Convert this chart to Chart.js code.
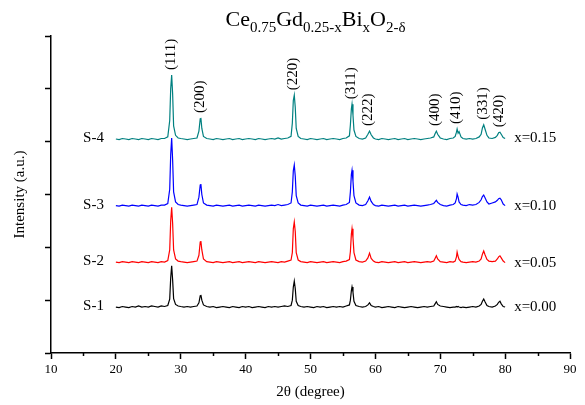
<!DOCTYPE html>
<html>
<head>
<meta charset="utf-8">
<script src="https://cdn.jsdelivr.net/npm/chart.js@4.4.0/dist/chart.umd.min.js"></script>
<style>
  html, body { margin: 0; padding: 0; background: #fff; }
</style>
</head>
<body>
<canvas id="xrd" width="585" height="405"></canvas>
<script>
// 2-theta grid shared by all four patterns
var twoTheta = [
  20, 20.5, 21, 21.5, 22, 22.5, 23, 23.5, 24, 24.5, 25, 25.5, 26, 26.5, 27, 27.5, 28,
  28.3, 28.45, 28.6, 28.75, 28.9, 29.2,
  29.6, 30, 30.5, 31, 31.5, 32, 32.5,
  32.8, 33, 33.1, 33.25, 33.5,
  34, 34.5, 35, 35.5, 36, 36.5, 37, 37.5, 38, 38.5, 39, 39.5, 40, 40.5, 41, 41.5, 42, 42.5, 43, 43.5, 44, 44.5, 45, 45.5, 46, 46.5, 47,
  47.2, 47.35, 47.5, 47.65, 47.8, 48.1,
  48.5, 49, 49.5, 50, 50.5, 51, 51.5, 52, 52.5, 53, 53.5, 54, 54.5, 55, 55.5, 56,
  56.15, 56.3, 56.4, 56.55, 56.7, 57,
  57.5, 58, 58.5,
  58.85, 59.1, 59.35,
  59.7, 60, 60.5, 61, 61.5, 62, 62.5, 63, 63.5, 64, 64.5, 65, 65.5, 66, 66.5, 67, 67.5, 68, 68.5, 69,
  69.2, 69.4, 69.6,
  70, 70.5, 71, 71.5, 72, 72.3,
  72.5, 72.6, 72.75, 72.9,
  73.2, 73.5, 74, 74.5, 75, 75.5, 76, 76.3,
  76.5, 76.7, 76.9, 77.2,
  77.5, 78, 78.5, 78.8,
  79, 79.2, 79.4,
  79.7, 80
];

// stacked intensities (a.u.)
var s1 = [
  0.87, 0.86, 0.88, 0.87, 0.86, 0.88, 0.87, 0.89, 0.87, 0.88, 0.87, 0.89, 0.88, 0.87, 0.89, 0.88, 0.90,
  1.02, 1.42, 1.65, 1.38, 1.03, 0.92,
  0.89, 0.88, 0.87, 0.88, 0.87, 0.88, 0.89,
  0.95, 1.08, 1.10, 1.00, 0.91,
  0.88, 0.87, 0.88, 0.86, 0.87, 0.88, 0.87, 0.86, 0.88, 0.87, 0.86, 0.88, 0.87, 0.88, 0.86, 0.87, 0.88, 0.87, 0.86, 0.88, 0.87, 0.88, 0.87, 0.88, 0.89, 0.88, 0.90,
  1.00, 1.25, 1.36, 1.22, 0.98, 0.90,
  0.88, 0.87, 0.88, 0.87, 0.86, 0.88, 0.87, 0.88, 0.86, 0.87, 0.88, 0.87, 0.88, 0.87, 0.89, 0.91,
  1.00, 1.18, 1.25, 1.15, 0.98, 0.90,
  0.88, 0.87, 0.88,
  0.91, 0.95, 0.90,
  0.88, 0.87, 0.88, 0.86, 0.87, 0.88, 0.87, 0.86, 0.88, 0.87, 0.86, 0.87, 0.88, 0.87, 0.86, 0.87, 0.88, 0.87, 0.88, 0.89,
  0.93, 0.97, 0.92,
  0.89, 0.88, 0.87, 0.86, 0.87, 0.87,
  0.88, 0.87, 0.88, 0.87,
  0.86, 0.87, 0.86, 0.87, 0.88, 0.87, 0.89, 0.92,
  0.98, 1.02, 0.97, 0.90,
  0.88, 0.87, 0.89, 0.92,
  0.96, 0.98, 0.93,
  0.88, 0.87
];
var s2 = [
  1.72, 1.71, 1.73, 1.72, 1.71, 1.73, 1.72, 1.71, 1.73, 1.72, 1.71, 1.73, 1.72, 1.71, 1.73, 1.72, 1.75,
  1.95, 2.50, 2.76, 2.45, 1.95, 1.78,
  1.74, 1.73, 1.72, 1.71, 1.72, 1.73, 1.74,
  1.85, 2.10, 2.12, 1.95, 1.78,
  1.73, 1.72, 1.71, 1.73, 1.72, 1.71, 1.72, 1.73, 1.71, 1.72, 1.73, 1.71, 1.72, 1.73, 1.72, 1.71, 1.73, 1.72, 1.71, 1.72, 1.73, 1.72, 1.71, 1.73, 1.72, 1.74, 1.76,
  1.90, 2.35, 2.48, 2.30, 1.90, 1.76,
  1.73, 1.72, 1.71, 1.73, 1.72, 1.71, 1.72, 1.73, 1.71, 1.72, 1.73, 1.72, 1.71, 1.73, 1.74, 1.77,
  1.92, 2.25, 2.35, 2.18, 1.90, 1.76,
  1.73, 1.72, 1.74,
  1.80, 1.89, 1.79,
  1.74, 1.72, 1.71, 1.73, 1.72, 1.71, 1.72, 1.73, 1.71, 1.72, 1.73, 1.71, 1.72, 1.73, 1.72, 1.71, 1.72, 1.73, 1.72, 1.74,
  1.79, 1.84, 1.78,
  1.73, 1.72, 1.71, 1.73, 1.72, 1.74,
  1.82, 1.91, 1.83, 1.77,
  1.73, 1.72, 1.71, 1.72, 1.73, 1.72, 1.74, 1.78,
  1.87, 1.93, 1.86, 1.77,
  1.74, 1.73, 1.74, 1.78,
  1.82, 1.84, 1.80,
  1.74, 1.71
];
var s3 = [
  2.79, 2.78, 2.80, 2.79, 2.78, 2.80, 2.79, 2.78, 2.80, 2.79, 2.78, 2.80, 2.79, 2.78, 2.80, 2.80, 2.83,
  3.10, 3.75, 4.07, 3.65, 3.05, 2.86,
  2.81, 2.80, 2.79, 2.78, 2.79, 2.80, 2.81,
  2.95, 3.18, 3.20, 3.00, 2.84,
  2.80, 2.79, 2.78, 2.80, 2.79, 2.78, 2.79, 2.80, 2.78, 2.79, 2.80, 2.78, 2.79, 2.80, 2.79, 2.78, 2.80, 2.79, 2.78, 2.79, 2.80, 2.79, 2.81, 2.79, 2.80, 2.81, 2.84,
  3.05, 3.45, 3.56, 3.35, 2.98, 2.84,
  2.80, 2.79, 2.78, 2.80, 2.79, 2.78, 2.79, 2.80, 2.78, 2.79, 2.80, 2.79, 2.78, 2.80, 2.81, 2.85,
  3.05, 3.38, 3.46, 3.25, 2.98, 2.84,
  2.80, 2.79, 2.81,
  2.88, 2.95, 2.87,
  2.81, 2.79, 2.78, 2.80, 2.79, 2.78, 2.79, 2.80, 2.78, 2.79, 2.80, 2.78, 2.79, 2.80, 2.79, 2.78, 2.79, 2.80, 2.81, 2.83,
  2.86, 2.89, 2.85,
  2.81, 2.79, 2.78, 2.80, 2.81, 2.84,
  2.92, 3.01, 2.95, 2.86,
  2.81, 2.80, 2.79, 2.81, 2.80, 2.81, 2.85, 2.90,
  2.96, 2.99, 2.94, 2.86,
  2.82, 2.84, 2.86, 2.89,
  2.92, 2.93, 2.90,
  2.82, 2.79
];
var s4 = [
  4.05, 4.04, 4.06, 4.05, 4.04, 4.06, 4.05, 4.04, 4.06, 4.05, 4.04, 4.06, 4.05, 4.04, 4.06, 4.06, 4.09,
  4.40, 5.00, 5.26, 4.90, 4.30, 4.12,
  4.07, 4.06, 4.05, 4.04, 4.05, 4.06, 4.07,
  4.20, 4.43, 4.45, 4.25, 4.10,
  4.06, 4.05, 4.04, 4.06, 4.05, 4.04, 4.05, 4.06, 4.04, 4.05, 4.06, 4.04, 4.05, 4.06, 4.05, 4.04, 4.06, 4.05, 4.04, 4.05, 4.06, 4.05, 4.07, 4.05, 4.06, 4.07, 4.10,
  4.35, 4.78, 4.88, 4.65, 4.25, 4.10,
  4.06, 4.05, 4.04, 4.06, 4.05, 4.04, 4.05, 4.06, 4.04, 4.05, 4.06, 4.05, 4.04, 4.06, 4.07, 4.11,
  4.32, 4.62, 4.71, 4.50, 4.22, 4.10,
  4.06, 4.05, 4.07,
  4.14, 4.20, 4.13,
  4.07, 4.05, 4.04, 4.06, 4.05, 4.04, 4.05, 4.06, 4.04, 4.05, 4.06, 4.04, 4.05, 4.06, 4.05, 4.04, 4.05, 4.06, 4.07, 4.09,
  4.15, 4.20, 4.14,
  4.07, 4.05, 4.04, 4.06, 4.07, 4.10,
  4.18, 4.24, 4.16, 4.19,
  4.09, 4.06, 4.05, 4.06, 4.05, 4.06, 4.09, 4.14,
  4.26, 4.32, 4.24, 4.12,
  4.07, 4.06, 4.08, 4.12,
  4.17, 4.18, 4.14,
  4.08, 4.06
];

var sampleNames = ['S-1', 'S-2', 'S-3', 'S-4'];
var bismuth = ['x=0.00', 'x=0.05', 'x=0.10', 'x=0.15'];
var hklLabels = ['(111)', '(200)', '(220)', '(311)', '(222)', '(400)', '(410)', '(331)', '(420)'];
var hklPos = [28.6, 33.1, 47.5, 56.4, 59.1, 69.4, 72.6, 76.7, 79.2];

var allSeries = [s1, s2, s3, s4];
var lineColors = ['#000000', '#ff0000', '#0000ff', '#008080'];
var serif = '"Liberation Serif", "Times New Roman", serif';

// title with subscripts
var titleParts = [['Ce', 0], ['0.75', 1], ['Gd', 0], ['0.25-x', 1], ['Bi', 0], ['x', 1], ['O', 0], ['2-\u03b4', 1]];

var labelPlugin = {
  id: 'xrdLabels',
  afterDraw: function(chart) {
    var ctx = chart.ctx;
    var xs = chart.scales.x, ys = chart.scales.y;
    var area = chart.chartArea;
    ctx.save();
    ctx.fillStyle = '#000';

    // minor ticks on x axis
    ctx.strokeStyle = '#000';
    ctx.lineWidth = 1.5;
    for (var m = 15; m < 90; m += 10) {
      var mx = Math.round(xs.getPixelForValue(m)) + 0.5;
      ctx.beginPath();
      ctx.moveTo(mx, area.bottom);
      ctx.lineTo(mx, area.bottom + 3);
      ctx.stroke();
    }

    // sample names and compositions
    ctx.font = '15px ' + serif;
    ctx.textBaseline = 'middle';
    allSeries.forEach(function(d, i) {
      ctx.textAlign = 'right';
      ctx.fillText(sampleNames[i], xs.getPixelForValue(twoTheta[0]) - 12, ys.getPixelForValue(d[0]) - 1);
      ctx.textAlign = 'left';
      ctx.fillText(bismuth[i], xs.getPixelForValue(twoTheta[twoTheta.length - 1]) + 9, ys.getPixelForValue(d[d.length - 1]));
    });

    // hkl labels above the top pattern
    var top = allSeries[3];
    hklLabels.forEach(function(lab, k) {
      var peak = 0;
      twoTheta.forEach(function(t, j) {
        if (Math.abs(t - hklPos[k]) < 0.35 && top[j] > peak) peak = top[j];
      });
      ctx.save();
      ctx.translate(xs.getPixelForValue(hklPos[k]) - 1, ys.getPixelForValue(peak) - 5);
      ctx.rotate(-Math.PI / 2);
      ctx.textAlign = 'left';
      ctx.textBaseline = 'middle';
      ctx.fillText(lab, 0, 0);
      ctx.restore();
    });

    // title
    var bigFont = '22px ' + serif, smallFont = '15px ' + serif;
    var total = 0;
    titleParts.forEach(function(p) {
      ctx.font = p[1] ? smallFont : bigFont;
      total += ctx.measureText(p[0]).width;
    });
    var tx = (area.left + area.right) / 2 + 5 - total / 2;
    ctx.textAlign = 'left';
    ctx.textBaseline = 'alphabetic';
    titleParts.forEach(function(p) {
      ctx.font = p[1] ? smallFont : bigFont;
      ctx.fillText(p[0], tx, p[1] ? 32 : 26);
      tx += ctx.measureText(p[0]).width;
    });
    ctx.restore();
  }
};

var ctx = document.getElementById('xrd').getContext('2d');
var config = {
  type: 'line',
  data: {
    datasets: allSeries.map(function(d, i) {
      return {
        label: sampleNames[i],
        data: twoTheta.map(function(t, j) { return { x: t, y: d[j] }; }),
        borderColor: lineColors[i],
        borderWidth: 1.2,
        pointRadius: 0,
        fill: false,
        tension: 0
      };
    })
  },
  options: {
    responsive: false,
    animation: false,
    layout: { padding: { top: 36, right: 15, left: 0, bottom: 0 } },
    plugins: {
      legend: { display: false },
      tooltip: { enabled: false }
    },
    scales: {
      x: {
        type: 'linear',
        min: 10,
        max: 90,
        ticks: { stepSize: 10, color: '#000', maxRotation: 0, font: { family: serif, size: 13 } },
        grid: { drawOnChartArea: false, tickLength: 6, tickColor: '#000', tickWidth: 1.5 },
        border: { color: '#000', width: 1.5 },
        title: { display: true, text: '2\u03b8 (degree)', color: '#000', font: { family: serif, size: 15 }, padding: { top: 4, bottom: 4 } },
        afterFit: function(s) { s.height = 52; }
      },
      y: {
        min: 0,
        max: 6,
        ticks: { stepSize: 1, display: false },
        grid: { drawOnChartArea: false, tickLength: 6, tickColor: '#000', tickWidth: 1.5 },
        border: { color: '#000', width: 1.5 },
        title: { display: true, text: 'Intensity (a.u.)', color: '#000', font: { family: serif, size: 15 }, padding: { top: 11, bottom: 4 } },
        afterFit: function(s) { s.width = 51; }
      }
    }
  },
  plugins: [labelPlugin]
};

var myChart = new Chart(ctx, config);
</script>
</body>
</html>
